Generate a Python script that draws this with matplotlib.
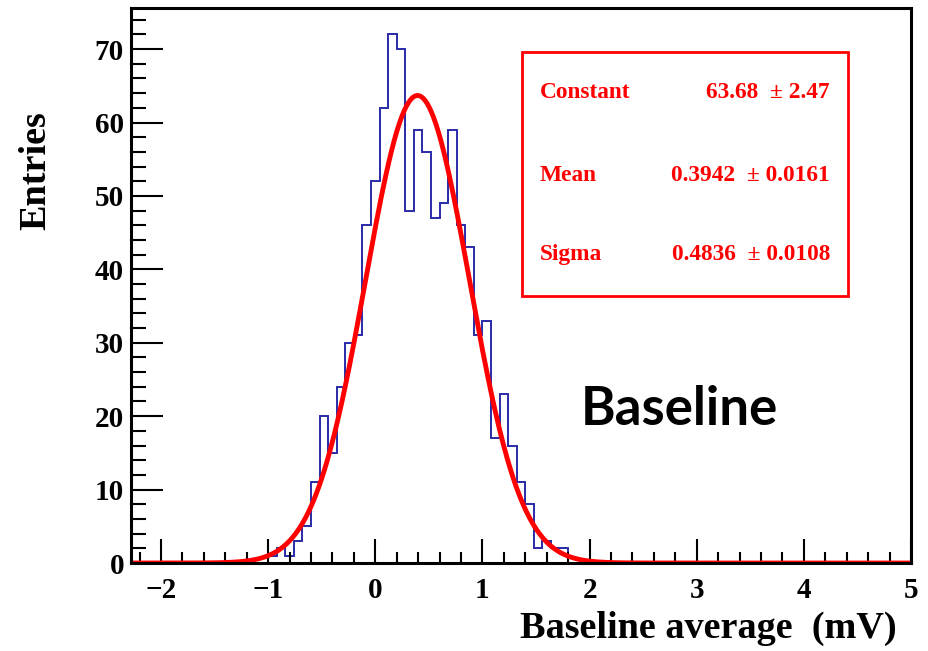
import numpy as np
import matplotlib.pyplot as plt
from matplotlib.patches import Rectangle

plt.rcParams['font.family'] = 'Liberation Serif'
plt.rcParams['font.weight'] = 'bold'

# histogram binning: 91 bins of 0.08 mV starting at -2.28
bin_lo = -2.28
bin_width = 0.08
n_bins = 91
first_filled = 16  # index of the first non-empty bin
filled_counts = [1, 2, 1, 3, 5, 11, 20, 15, 24, 30, 31, 46, 52, 62, 72, 70, 48,
                 59, 56, 47, 49, 59, 46, 43, 31, 33, 17, 23, 16, 11, 8, 2, 3, 2, 2]

# gaussian fit parameters (from the stats box)
fit_names = ["Constant", "Mean", "Sigma"]
fit_values = ["63.68", "0.3942", "0.4836"]
fit_errors = ["2.47", "0.0161", "0.0108"]
fit_const, fit_mean, fit_sigma = 63.68, 0.3942, 0.4836

counts = np.zeros(n_bins)
counts[first_filled:first_filled + len(filled_counts)] = filled_counts
edges = bin_lo + bin_width * np.arange(n_bins + 1)

fig = plt.figure(figsize=(9.29, 6.51), dpi=100)
ax = fig.add_axes([131 / 929, 1 - 563 / 651, 780 / 929, 555 / 651])

ax.stairs(counts, edges, color='#2a2aa8', lw=1.4, baseline=0)

xf = np.linspace(edges[0], edges[-1], 600)
yf = fit_const * np.exp(-0.5 * ((xf - fit_mean) / fit_sigma) ** 2)
ax.plot(xf, yf, color='red', lw=3.5, solid_capstyle='butt')

ax.set_xlim(edges[0], edges[-1])
ax.set_ylim(0, 1.05 * max(filled_counts))

ax.set_xticks(np.arange(-2, 6, 1))
ax.set_xticks(np.arange(-2.2, 5.01, 0.2), minor=True)
ax.set_yticks(np.arange(0, 71, 10))
ax.set_yticks(np.arange(0, 76, 2), minor=True)

ax.tick_params(axis='both', which='both', direction='in', top=False, right=False,
               width=1.5, colors='black', labelsize=21)
ax.tick_params(axis='x', which='major', length=17, pad=10)
ax.tick_params(axis='x', which='minor', length=8)
ax.tick_params(axis='y', which='major', length=23, pad=5)
ax.tick_params(axis='y', which='minor', length=11)
for lab in ax.get_xticklabels() + ax.get_yticklabels():
    lab.set_fontweight('bold')
for sp in ax.spines.values():
    sp.set_linewidth(2.2)

fig.text(897 / 929, 1 - 628 / 651, "Baseline average  (mV)", ha='right', va='center',
         fontsize=27.5, fontweight='bold')
fig.text(36 / 929, 1 - 171 / 651, "Entries", rotation=90, ha='center', va='center',
         fontsize=27.5, fontweight='bold')

# stats box
box = Rectangle((0.501, 0.481), 0.418, 0.440, transform=ax.transAxes,
                fill=False, edgecolor='red', lw=2)
ax.add_patch(box)
row_y = [0.847, 0.699, 0.555]
for name, val, err, y in zip(fit_names, fit_values, fit_errors, row_y):
    ax.text(0.524, y, name, transform=ax.transAxes, color='red', fontsize=16.8,
            fontweight='bold', ha='left', va='center')
    ax.text(0.896, y, val + "  \u00b1 " + err, transform=ax.transAxes, color='red',
            fontsize=16.8, fontweight='bold', ha='right', va='center')

ax.text(0.7026, 0.2757, "Baseline", transform=ax.transAxes, ha='center', va='center',
        fontsize=38, fontweight='bold', family='Lato', color='black')

fig.savefig("out.png", dpi=100)
